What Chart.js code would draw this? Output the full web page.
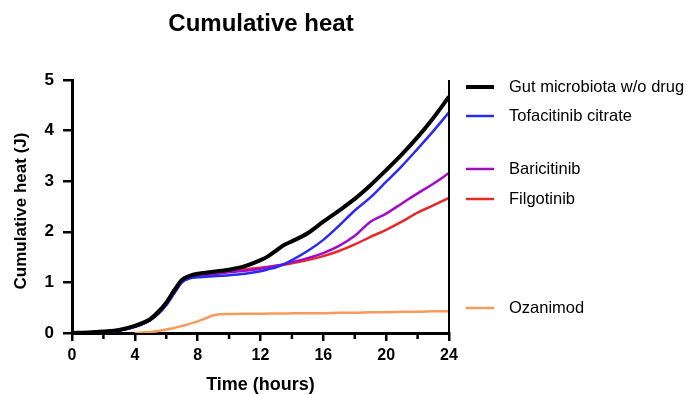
<!DOCTYPE html>
<html>
<head>
<meta charset="utf-8">
<script src="https://cdn.jsdelivr.net/npm/chart.js@4/dist/chart.umd.min.js"></script>
<style>
html,body{margin:0;padding:0;background:#fff;}
#wrap{width:688px;height:395px;position:relative;}
</style>
</head>
<body>
<div id="wrap"><canvas id="c" width="688" height="395"></canvas></div>
<script>
const times = [0,1,2,3,4,4.5,5,5.5,6,6.5,7,7.5,8,8.5,9,9.5,10,11,12,12.5,13,13.5,14,15,16,17,18,19,20,21,22,23,24];
const gut   = [0,0.01,0.03,0.06,0.14,0.2,0.28,0.42,0.6,0.84,1.05,1.13,1.17,1.19,1.21,1.23,1.25,1.32,1.44,1.52,1.63,1.74,1.81,1.97,2.2,2.42,2.65,2.92,3.22,3.53,3.87,4.25,4.67];
const tofa  = [0,0.01,0.02,0.05,0.12,0.18,0.26,0.38,0.55,0.78,1.0,1.08,1.1,1.11,1.12,1.13,1.14,1.17,1.22,1.26,1.3,1.36,1.44,1.62,1.84,2.12,2.42,2.68,2.99,3.3,3.64,3.99,4.36];
const bari  = [0,0.01,0.02,0.05,0.12,0.18,0.26,0.39,0.56,0.79,1.01,1.09,1.12,1.14,1.16,1.18,1.2,1.23,1.27,1.3,1.33,1.36,1.4,1.48,1.58,1.72,1.92,2.2,2.36,2.56,2.76,2.95,3.16];
const filgo = [0,0.01,0.02,0.05,0.12,0.18,0.26,0.39,0.56,0.79,1.01,1.09,1.12,1.15,1.18,1.2,1.22,1.26,1.29,1.31,1.33,1.35,1.38,1.44,1.52,1.62,1.75,1.9,2.04,2.2,2.38,2.52,2.67];
const ozan  = [null,null,null,null,0,0.01,0.02,0.04,0.07,0.1,0.14,0.18,0.23,0.29,0.35,0.37,0.375,0.38,0.38,0.385,0.385,0.385,0.39,0.39,0.39,0.4,0.4,0.41,0.41,0.42,0.42,0.43,0.43];
const seriesNames = ['Gut microbiota w/o drug','Tofacitinib citrate','Baricitinib','Filgotinib','Ozanimod'];
const xTickLabels = [0,4,8,12,16,20,24];
const yTickLabels = [0,1,2,3,4,5];

const colors = ['#000000','#2a2af2','#a20cc8','#e62a2a','#f79a5a'];
const widths = [4,2.5,2.5,2.5,2.5];
const allVals = [gut,tofa,bari,filgo,ozan];
const legendY = [87,116,169,199,308];

const datasets = allVals.map((vals,i)=>({
  label: seriesNames[i],
  data: times.map((t,j)=>({x:t,y:vals[j]})),
  borderColor: colors[i],
  borderWidth: widths[i],
  pointRadius: 0,
  fill: false,
  cubicInterpolationMode: 'monotone',
  spanGaps: false,
  order: i
}));

const FONT = '"Liberation Sans", Arial, Helvetica, sans-serif';

const decor = {
  id: 'decor',
  afterDraw(chart){
    const ctx = chart.ctx;
    const ca = chart.chartArea;
    const xs = chart.scales.x;
    ctx.save();
    // right frame line
    ctx.strokeStyle = '#000';
    ctx.lineWidth = 2;
    ctx.beginPath();
    ctx.moveTo(ca.right, ca.top);
    ctx.lineTo(ca.right, ca.bottom + 1);
    ctx.stroke();
    // minor x ticks
    ctx.lineWidth = 2.5;
    for (let v = 2; v < 24; v += 4) {
      const px = xs.getPixelForValue(v);
      ctx.beginPath();
      ctx.moveTo(px, ca.bottom);
      ctx.lineTo(px, ca.bottom + 6);
      ctx.stroke();
    }
    // title
    ctx.fillStyle = '#000';
    ctx.textAlign = 'center';
    ctx.textBaseline = 'alphabetic';
    ctx.font = 'bold 24px ' + FONT;
    ctx.fillText('Cumulative heat', 261, 31);
    // x axis title
    ctx.font = 'bold 18px ' + FONT;
    ctx.textBaseline = 'middle';
    ctx.fillText('Time (hours)', (ca.left + ca.right) / 2, 385);
    // y axis title
    ctx.save();
    ctx.translate(21, 211);
    ctx.rotate(-Math.PI / 2);
    ctx.font = 'bold 17px ' + FONT;
    ctx.fillText('Cumulative heat (J)', 0, 0);
    ctx.restore();
    // legend
    ctx.textAlign = 'left';
    ctx.font = '16.5px ' + FONT;
    for (let i = 0; i < seriesNames.length; i++) {
      const y = legendY[i];
      ctx.strokeStyle = colors[i];
      ctx.lineWidth = i === 0 ? 4 : 2.5;
      ctx.beginPath();
      ctx.moveTo(466, y);
      ctx.lineTo(494, y);
      ctx.stroke();
      ctx.fillStyle = '#000';
      ctx.fillText(seriesNames[i], 509, y);
    }
    ctx.restore();
  }
};

new Chart(document.getElementById('c'), {
  type: 'line',
  data: { datasets },
  options: {
    responsive: false,
    animation: false,
    layout: { padding: { left: 0, right: 239, top: 80, bottom: 0 } },
    plugins: { legend: { display: false }, title: { display: false }, tooltip: { enabled: false } },
    scales: {
      x: {
        type: 'linear', min: 0, max: 24,
        afterFit(s){ s.height = 62; },
        afterBuildTicks(s){ s.ticks = xTickLabels.map(v=>({value:v})); },
        grid: { drawOnChartArea: false, drawTicks: true, tickLength: 8, color: '#000', lineWidth: 2.5 },
        border: { display: true, color: '#000', width: 3 },
        ticks: { color: '#000', font: { family: FONT, size: 16, weight: 'bold' }, padding: 5, maxRotation: 0, autoSkip: false }
      },
      y: {
        type: 'linear', min: 0, max: 5,
        afterFit(s){ s.width = 72; },
        afterBuildTicks(s){ s.ticks = yTickLabels.map(v=>({value:v})); },
        grid: { drawOnChartArea: false, drawTicks: true, tickLength: 9, color: '#000', lineWidth: 2.5 },
        border: { display: true, color: '#000', width: 3 },
        ticks: { color: '#000', font: { family: FONT, size: 17, weight: 'bold' }, padding: 9 }
      }
    }
  },
  plugins: [decor]
});
</script>
</body>
</html>
